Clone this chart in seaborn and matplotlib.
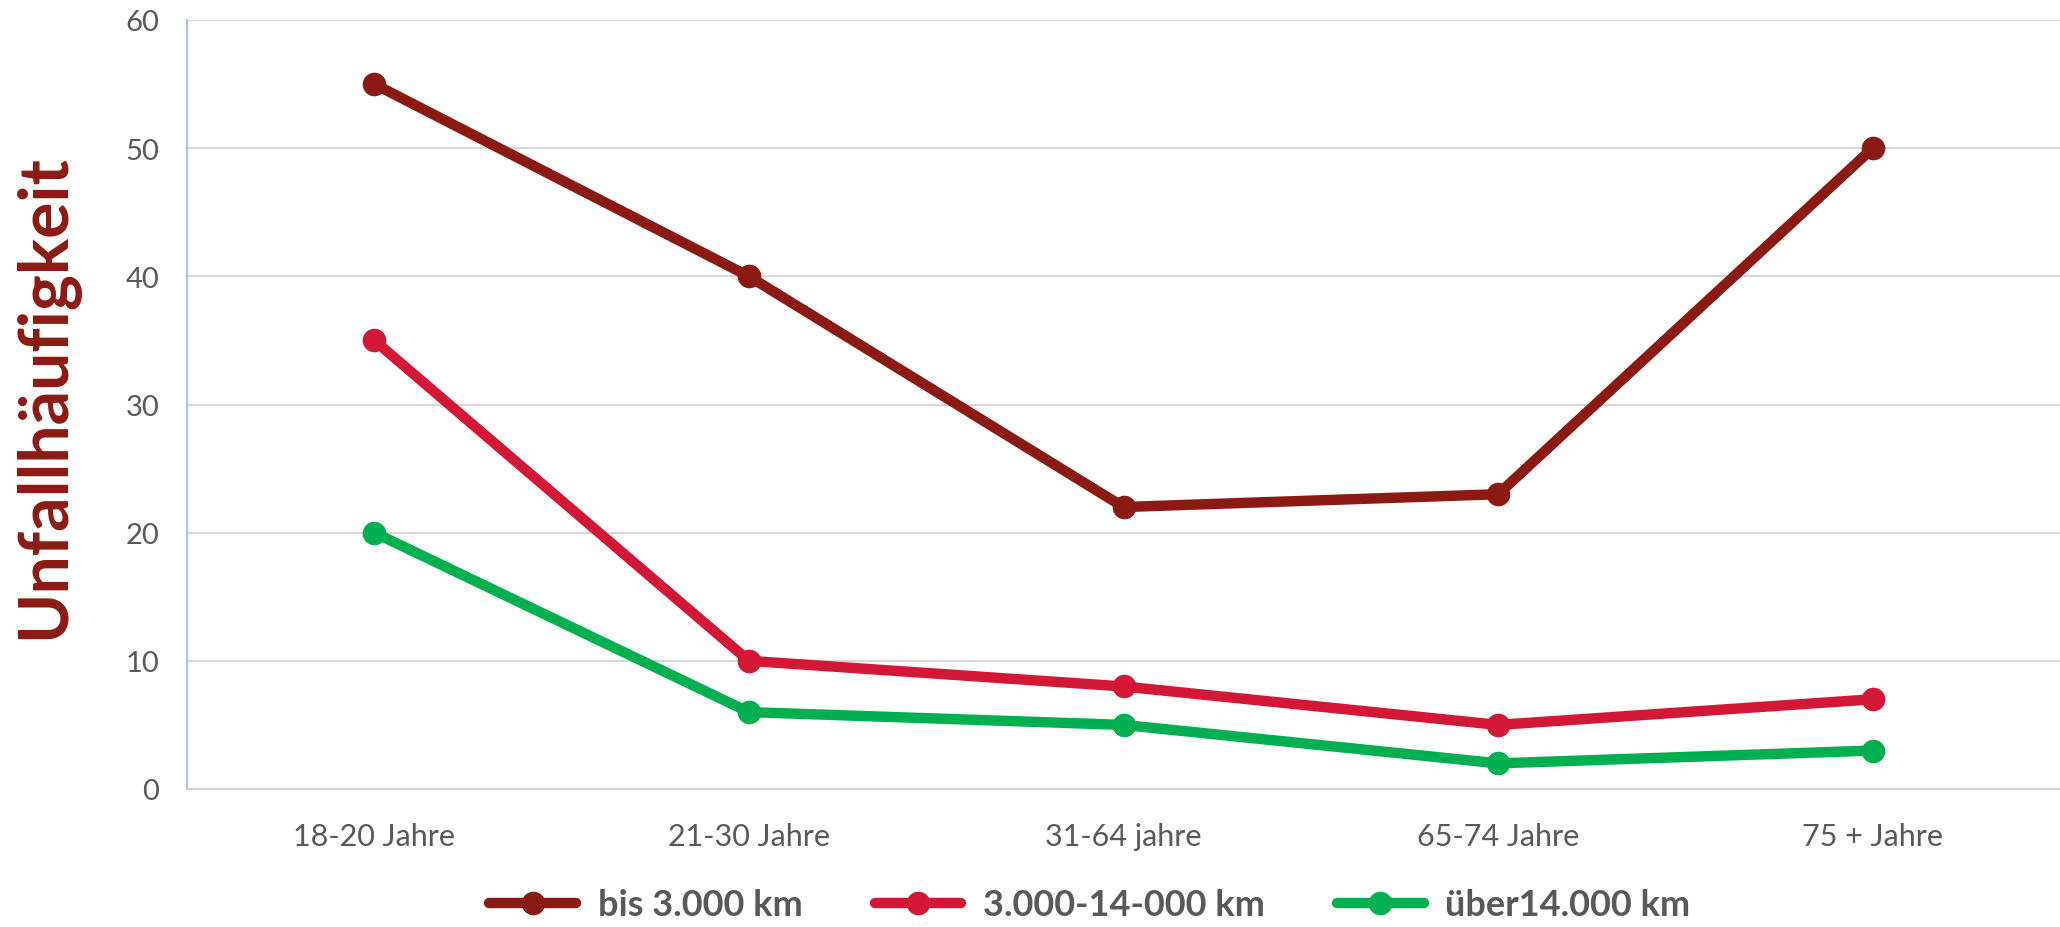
import matplotlib
matplotlib.use("Agg")
import matplotlib.pyplot as plt
import seaborn as sns
import pandas as pd

# Age groups and accident frequency per yearly mileage class
age_groups = ["18-20 Jahre", "21-30 Jahre", "31-64 jahre", "65-74 Jahre", "75 + Jahre"]
series_names = ["bis 3.000 km", "3.000-14-000 km", "über14.000 km"]
bis_3000 = [55, 40, 22, 23, 50]
mid_3000_14000 = [35, 10, 8, 5, 7]
ueber_14000 = [20, 6, 5, 2, 3]
y_ticks = [0, 10, 20, 30, 40, 50, 60]

colors = ["#8B1A14", "#D21737", "#00B050"]

df = pd.concat(
    [
        pd.DataFrame({"Alter": age_groups, "Wert": vals, "Fahrleistung": name})
        for name, vals in zip(series_names, [bis_3000, mid_3000_14000, ueber_14000])
    ],
    ignore_index=True,
)

sns.set_theme(style="white")
plt.rcParams["font.family"] = ["Lato", "DejaVu Sans"]

fig = plt.figure(figsize=(20.6, 9.28), dpi=100)
ax = fig.add_axes([187 / 2060, 1 - 790 / 928, 1 - 187 / 2060, (790 - 21) / 928])

sns.lineplot(
    data=df, x="Alter", y="Wert", hue="Fahrleistung", palette=colors,
    hue_order=series_names, sort=False, marker="o", markersize=17,
    markeredgewidth=0, linewidth=7.5, ax=ax, legend=True,
)

ax.set_xlim(-0.5, 4.5)
ax.set_ylim(0, 60)
ax.set_yticks(y_ticks)
ax.grid(axis="y", color="#D9D9D9", linewidth=1.6)
ax.set_axisbelow(True)

for side in ["top", "right"]:
    ax.spines[side].set_visible(False)
ax.spines["left"].set_color("#B4C3D9")
ax.spines["left"].set_linewidth(1.6)
ax.spines["bottom"].set_color("#D0D4DA")
ax.spines["bottom"].set_linewidth(1.6)

ax.tick_params(axis="y", length=0, pad=20, labelsize=21, labelcolor="#595959")
ax.tick_params(axis="x", length=0, pad=24, labelsize=22, labelcolor="#595959")

ax.set_xlabel("")
ax.set_ylabel("Unfallhäufigkeit", fontsize=49, fontweight="bold", color="#8B1A14")
ax.yaxis.set_label_coords(-0.0753, 0.511)
ax.yaxis.label.set_va("center")

handles, labels = ax.get_legend_handles_labels()
ax.legend_.remove()
fig.legend(
    handles, labels, loc="center", bbox_to_anchor=(1090 / 2060, 1 - 906 / 928),
    ncol=3, frameon=False, handlelength=2.4, columnspacing=2.0, handletextpad=0.6,
    prop={"size": 26, "weight": "bold"}, labelcolor="#595959",
)

fig.savefig("out.png", dpi=100)
